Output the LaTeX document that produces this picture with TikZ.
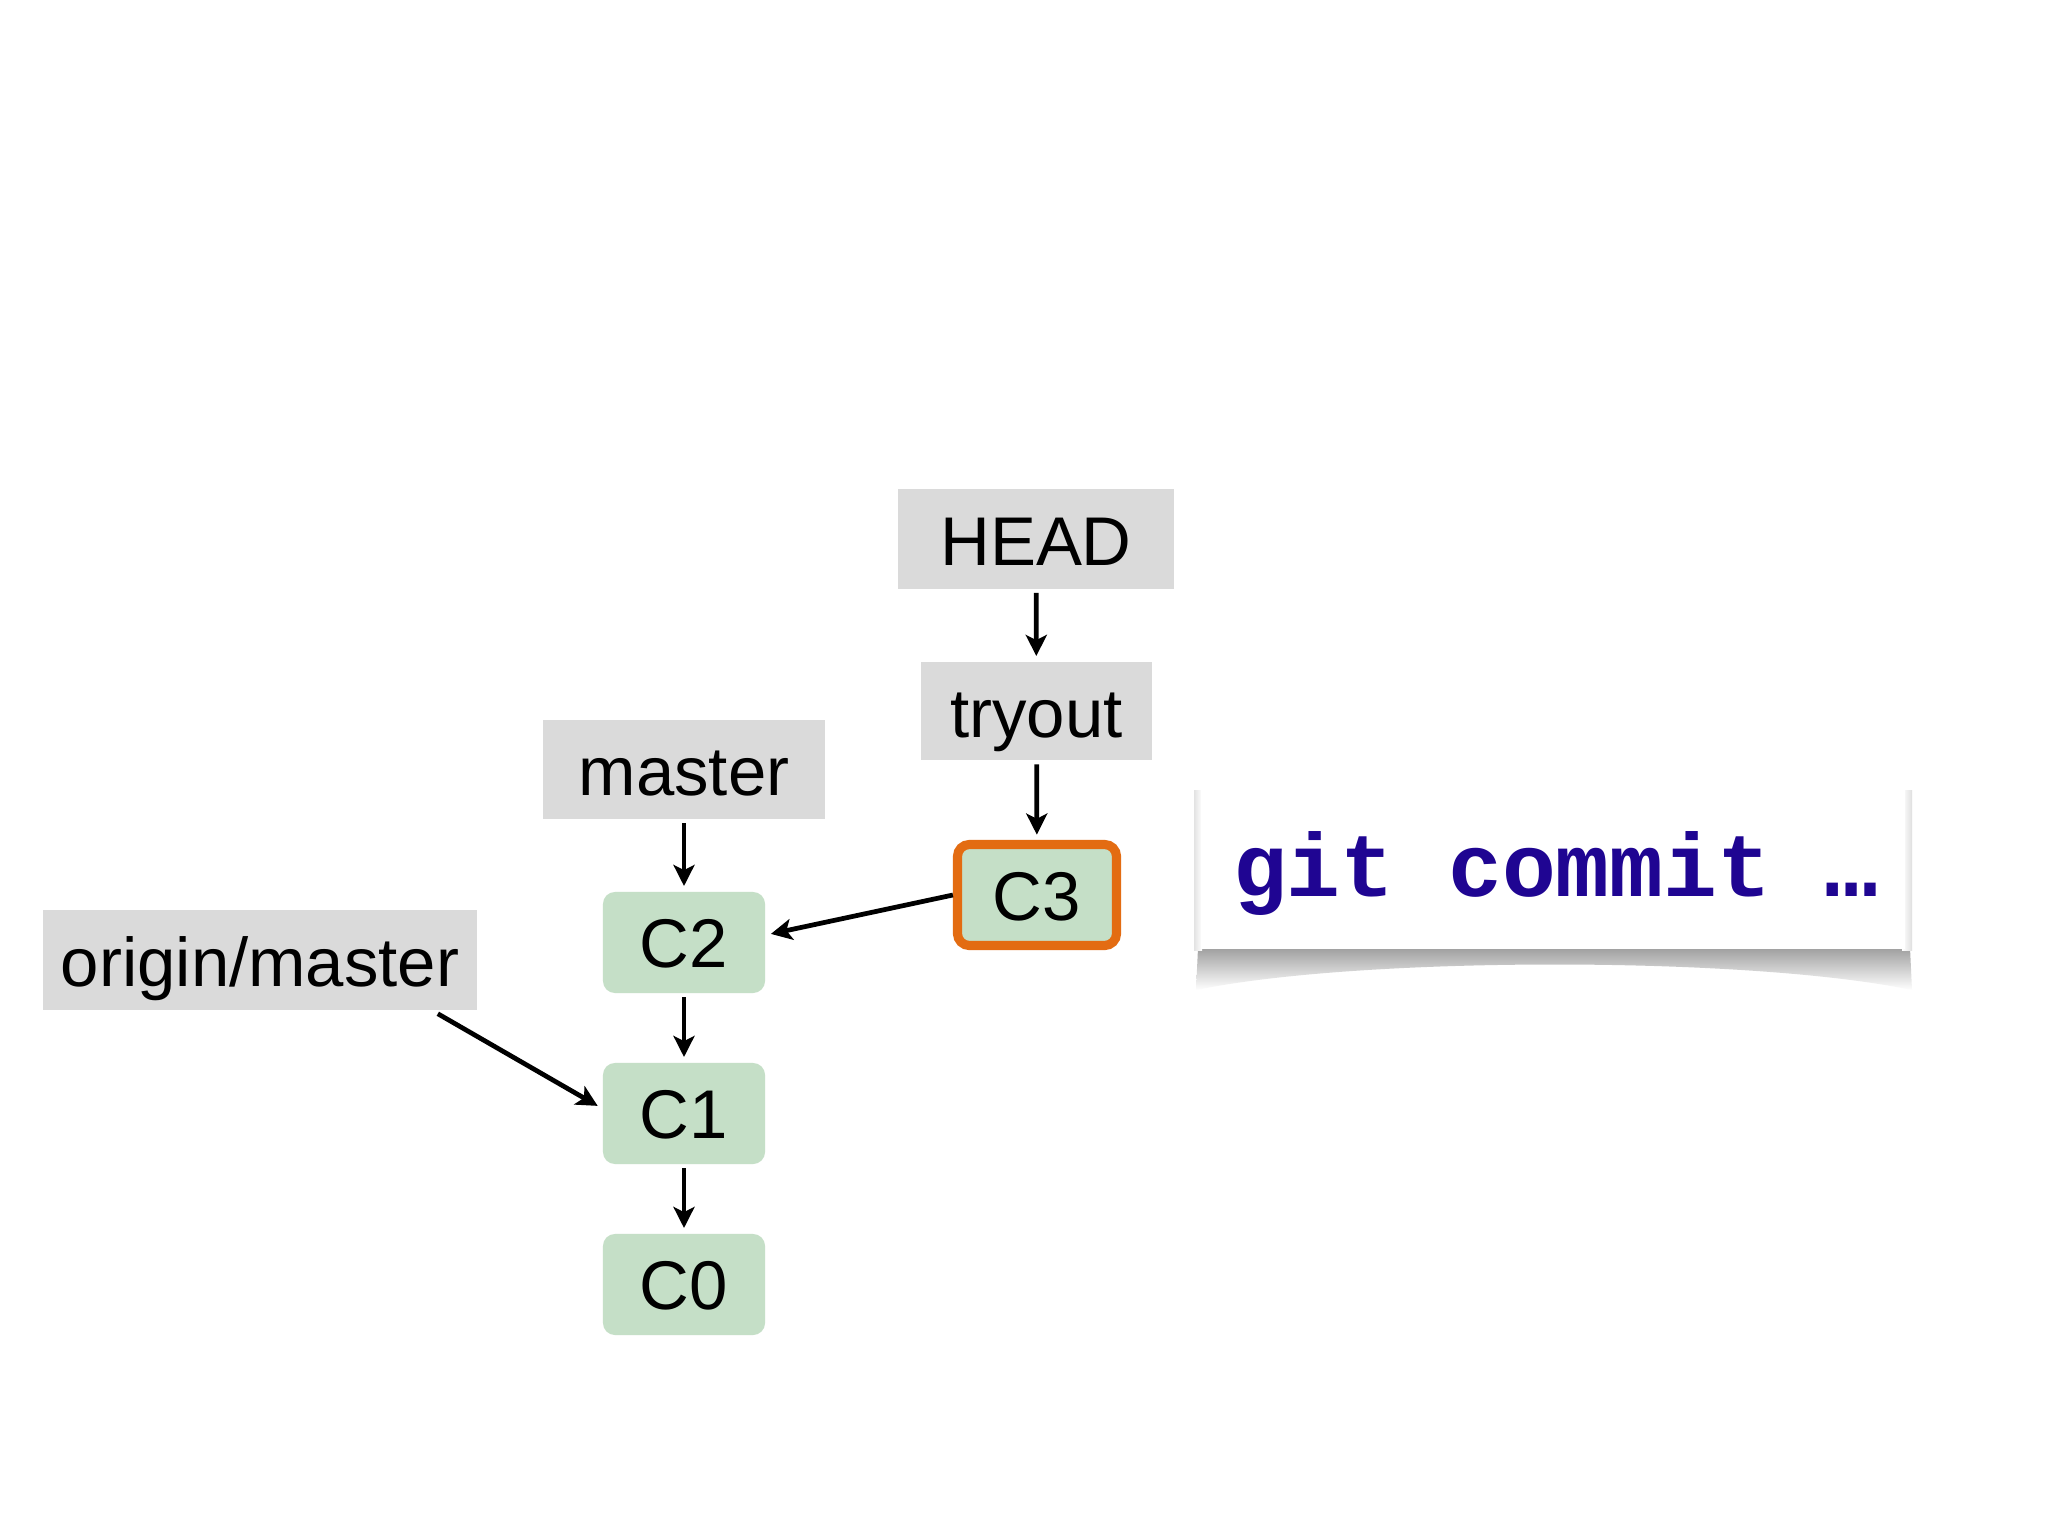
\documentclass[tikz,border=0pt]{standalone}
\usepackage{fontspec}
\setmainfont{Liberation Sans}
\setmonofont{Liberation Mono}
\usetikzlibrary{arrows.meta,calc}
\definecolor{boxgray}{HTML}{DADADA}
\definecolor{cgreen}{HTML}{C5DFC7}
\definecolor{corange}{HTML}{E36C12}
\definecolor{cmdblue}{HTML}{1F0592}
\begin{document}
\begin{tikzpicture}[x=0.01cm,y=-0.01cm,
  refbox/.style={fill=boxgray, inner sep=0pt, text height=0.52cm, text depth=0cm,
    font=\fontsize{19.6}{24}\selectfont},
  commitbox/.style={fill=cgreen, rounded corners=0.12cm, inner sep=0pt,
    text height=0.50cm, text depth=0cm,
    minimum width=1.62cm, minimum height=1.01cm, font=\fontsize{19.6}{24}\selectfont},
  arr/.style={-{Stealth[length=6pt,width=6pt,inset=1.5pt]}, line width=1.35pt, shorten <=1pt, shorten >=1.5pt}]
\fill[white] (0,0) rectangle (2048,1536);
\useasboundingbox (0,0) rectangle (2048,1536);

% reference boxes
\node[refbox, minimum width=2.75cm, minimum height=0.99cm] (head) at (1036,539) {HEAD};
\node[refbox, minimum width=2.31cm, minimum height=0.98cm] (tryout) at (1036.5,711) {tryout};
\node[refbox, minimum width=2.82cm, minimum height=0.99cm] (master) at (684,769.5) {master};
\node[refbox, minimum width=4.34cm, minimum height=1.00cm] (origin) at (260,960) {origin/master};

% commits
\node[commitbox] (c2) at (684,942.5) {C2};
\node[commitbox] (c1) at (684,1113.5) {C1};
\node[commitbox] (c0) at (684,1284.5) {C0};
\node[commitbox, draw=corange, line width=2.6pt, minimum width=1.59cm, minimum height=1.01cm] (c3) at (1037,895) {C3};

% connectors
\draw[arr] (head) -- (tryout);
\draw[arr] (tryout) -- (c3);
\draw[arr] (master) -- (c2);
\draw[arr] (c2) -- (c1);
\draw[arr] (c1) -- (c0);
\draw[arr, shorten <=0pt] (c3.west) -- (c2.east |- {(0,935)});
\draw[arr, shorten <=0pt] ($(origin.south east)+(-40,3)$) -- ($(c1.west)+(0,-5)$);

% git commit card with curled shadow
\shade[top color=gray!75, bottom color=white]
  (1198,948) -- (1910,948) -- (1912,990)
  .. controls (1750,956) and (1360,956) .. (1196,990) -- cycle;
\shade[left color=white, right color=gray!25] (1902,790) rectangle (1912,950);
\shade[left color=gray!22, right color=white] (1194,790) rectangle (1202,950);
\node[fill=white, minimum width=7.04cm, minimum height=1.64cm, inner sep=0pt] (card) at (1553,867) {};
\node[anchor=base, text=cmdblue, inner sep=0pt,
  font=\fontsize{25.5}{30}\selectfont\ttfamily\bfseries] (cmd) at (1556,896) {git commit …};
\end{tikzpicture}
\end{document}
